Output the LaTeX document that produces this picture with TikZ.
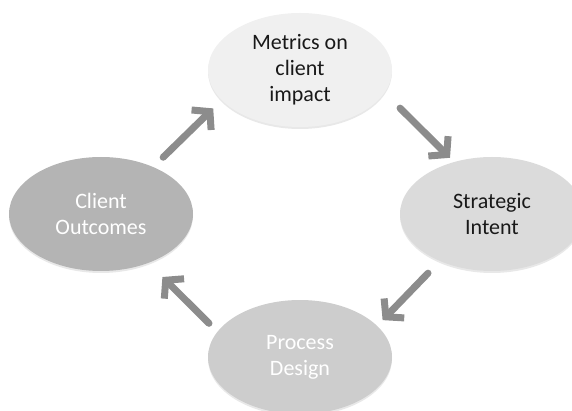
\documentclass[tikz,border=0pt]{standalone}
\usepackage{fontspec}
\setmainfont{Carlito}
\usetikzlibrary{arrows.meta, shapes.geometric, shadows}

\definecolor{arrowgray}{HTML}{8C8C8C}
\definecolor{fillA}{HTML}{F0F0F0}
\definecolor{fillB}{HTML}{DBDBDB}
\definecolor{fillC}{HTML}{CDCDCD}
\definecolor{fillD}{HTML}{B4B4B4}

\begin{document}
\begin{tikzpicture}[
  x=1pt, y=-1pt,
  phase/.style={ellipse, minimum width=184pt, minimum height=114pt,
    inner sep=0pt, outer sep=0pt, align=center,
    font=\fontsize{22}{26}\selectfont,
    drop shadow={shadow xshift=0pt, shadow yshift=-2pt, opacity=0.18}},
  arr/.style={-{Straight Barb[length=12pt, width=28pt]}, line width=7pt,
    draw=arrowgray, line cap=round}
]
\useasboundingbox (0,0) rectangle (572,411);

\node[phase, fill=fillA, text=black!90] (metrics) at (300,70) {Metrics on\\client\\impact};
\node[phase, fill=fillB, text=black!90] (strategic) at (492,214) {Strategic\\Intent};
\node[phase, fill=fillC, text=white] (process) at (300,357) {Process\\Design};
\node[phase, fill=fillD, text=white] (outcomes) at (101,214) {Client\\Outcomes};

\draw[arr, shorten <=14pt, shorten >=12pt] (outcomes.42) -- (metrics.-159);
\draw[arr, shorten <=22pt, shorten >=6pt] (metrics.-15) -- (strategic.126);
\draw[arr, shorten <=17pt, shorten >=8pt] (strategic.222) -- (process.22);
\draw[arr, shorten <=12pt, shorten >=20pt] (process.163) -- (outcomes.-46);
\end{tikzpicture}
\end{document}
